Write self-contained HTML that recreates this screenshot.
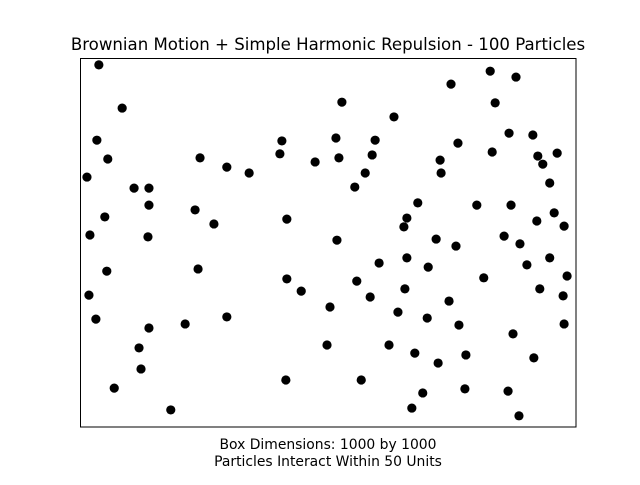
<!DOCTYPE html>
<html><head><meta charset="utf-8"><style>
html,body{margin:0;padding:0;background:#fff;}
svg text{font-family:"DejaVu Sans","Liberation Sans",sans-serif;fill:#000;}
</style></head><body>
<svg id="chart" width="640" height="480" viewBox="0 0 640 480">
<rect x="0" y="0" width="640" height="480" fill="#fff"/>
<text x="328" y="50" text-anchor="middle" font-size="16.6">Brownian Motion + Simple Harmonic Repulsion - 100 Particles</text>
<g id="points"></g>
<rect x="80.5" y="58.5" width="495.5" height="368.5" fill="none" stroke="#000" stroke-width="1"/>
<text x="328" y="449" text-anchor="middle" font-size="13.9">Box Dimensions: 1000 by 1000</text>
<text x="328" y="466" text-anchor="middle" font-size="13.9">Particles Interact Within 50 Units</text>
</svg>
<script>
const xs=[36,83,32,54,12,107,137,137,48,18,135,52,16,30,137,117,121,67,181,210,236,230,268,240,294,339,294,405,401,415,415,444,413,472,526,514,520,552,573,587,593,631,516,502,496,556,583,601,565,621,639,653,657,651,657,679,700,698,673,720,689,667,716,742,756,726,724,760,746,762,776,774,798,812,825,835,829,863,877,867,853,885,899,871,861,883,911,921,931,960,945,954,919,974,945,925,980,972,974,913];
const ys=[984,867,780,729,680,650,650,604,572,523,518,425,360,295,271,217,160,108,49,282,431,591,553,732,707,691,301,778,743,566,404,371,130,721,883,786,732,653,691,740,780,843,509,328,225,398,355,447,130,225,314,377,461,545,569,610,436,298,203,176,95,54,512,344,493,691,726,772,932,279,198,106,604,407,967,881,748,799,951,604,520,499,442,255,100,33,794,737,715,745,664,583,561,547,461,377,412,358,282,190];
const xDomain=[0,1000], yDomain=[0,1000];
function sx(v){return 81+(v-xDomain[0])/(xDomain[1]-xDomain[0])*496;}
function sy(v){return 428-(v-yDomain[0])/(yDomain[1]-yDomain[0])*369;}
const g=document.getElementById('points');
for(let i=0;i<xs.length;i++){
  const c=document.createElementNS('http://www.w3.org/2000/svg','circle');
  c.setAttribute('cx',sx(xs[i]));
  c.setAttribute('cy',sy(ys[i]));
  c.setAttribute('r',4.6);
  c.setAttribute('fill','#000');
  
  
  g.appendChild(c);
}
</script>
</body></html>
